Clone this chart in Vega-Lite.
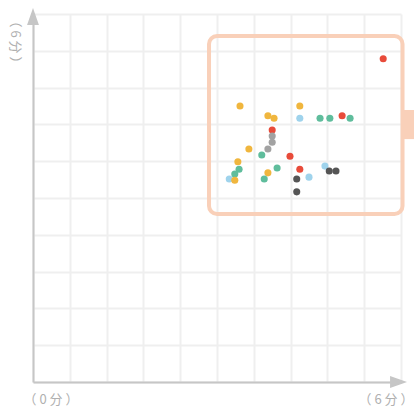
{
  "$schema": "https://vega.github.io/schema/vega-lite/v6.json",
  "width": 368,
  "height": 368,
  "autosize": {"type": "none"},
  "padding": {"left": 33, "top": 14, "right": 13, "bottom": 24},
  "background": "white",
  "config": {
    "view": {"stroke": null},
    "font": "Noto Sans CJK SC",
    "axis": {
      "grid": true,
      "gridColor": "#efefef",
      "gridWidth": 2,
      "ticks": false,
      "tickCount": 11,
      "domainColor": "#c6c6c6",
      "domainWidth": 2,
      "labelColor": "#b0b0b0",
      "labelFontSize": 13,
      "titleColor": "#b0b0b0",
      "titleFontSize": 13,
      "titleFontWeight": "normal"
    }
  },
  "datasets": {
    "points": [
      {"x": 3.375, "y": 4.50, "g": "orange"},
      {"x": 3.83, "y": 4.34, "g": "orange"},
      {"x": 3.93, "y": 4.30, "g": "orange"},
      {"x": 4.35, "y": 4.50, "g": "orange"},
      {"x": 4.35, "y": 4.30, "g": "lightblue"},
      {"x": 4.68, "y": 4.30, "g": "teal"},
      {"x": 4.84, "y": 4.30, "g": "teal"},
      {"x": 5.04, "y": 4.34, "g": "red"},
      {"x": 5.17, "y": 4.30, "g": "teal"},
      {"x": 3.90, "y": 4.11, "g": "red"},
      {"x": 3.90, "y": 4.01, "g": "gray"},
      {"x": 3.90, "y": 3.91, "g": "gray"},
      {"x": 3.83, "y": 3.80, "g": "gray"},
      {"x": 3.52, "y": 3.80, "g": "orange"},
      {"x": 3.73, "y": 3.70, "g": "teal"},
      {"x": 4.19, "y": 3.68, "g": "red"},
      {"x": 3.34, "y": 3.59, "g": "orange"},
      {"x": 3.36, "y": 3.47, "g": "teal"},
      {"x": 3.29, "y": 3.39, "g": "teal"},
      {"x": 3.20, "y": 3.31, "g": "lightblue"},
      {"x": 3.29, "y": 3.29, "g": "orange"},
      {"x": 3.83, "y": 3.41, "g": "orange"},
      {"x": 3.98, "y": 3.49, "g": "teal"},
      {"x": 3.77, "y": 3.31, "g": "teal"},
      {"x": 4.35, "y": 3.47, "g": "red"},
      {"x": 4.30, "y": 3.31, "g": "dark"},
      {"x": 4.30, "y": 3.10, "g": "dark"},
      {"x": 4.50, "y": 3.34, "g": "lightblue"},
      {"x": 4.76, "y": 3.52, "g": "lightblue"},
      {"x": 4.83, "y": 3.44, "g": "dark"},
      {"x": 4.94, "y": 3.44, "g": "dark"},
      {"x": 5.71, "y": 5.27, "g": "red"}
    ],
    "box": [{"x": 2.87, "x2": 6.025, "y": 5.64, "y2": 2.74}],
    "tab": [{"x": 6.0, "x2": 6.5, "y": 4.435, "y2": 3.96}],
    "arrowY": [{"x": 0, "y": 5.96}],
    "arrowX": [{"x": 5.96, "y": 0}]
  },
  "layer": [
    {
      "data": {"name": "box"},
      "mark": {"type": "rect", "fill": null, "stroke": "#f9d0b9", "strokeWidth": 4, "cornerRadius": 8, "clip": false},
      "encoding": {
        "x": {"field": "x", "type": "quantitative", "scale": {"domain": [0, 6]},
          "axis": {"values": [0, 0.6, 1.2, 1.8, 2.4, 3, 3.6, 4.2, 4.8, 5.4, 6], "title": null,
            "labelExpr": "datum.value == 0 ? '（ 0 分 ）' : datum.value == 6 ? '（ 6 分 ）' : ''",
            "labelFlush": true, "labelOverlap": false, "labelBound": false, "labelPadding": 11,
            "labelOffset": {"condition": {"test": "datum.value == 0", "value": -10}, "value": 12}}},
        "x2": {"field": "x2"},
        "y": {"field": "y", "type": "quantitative", "scale": {"domain": [0, 6]},
          "axis": {"values": [0, 0.6, 1.2, 1.8, 2.4, 3, 3.6, 4.2, 4.8, 5.4, 6], "labels": false,
            "title": "（ 6 分 ）", "titleAngle": 90, "titleAnchor": "end", "titleAlign": "left", "titleBaseline": "middle", "titlePadding": 19}},
        "y2": {"field": "y2"}
      }
    },
    {
      "data": {"name": "tab"},
      "mark": {"type": "rect", "fill": "#f9d0b9", "clip": false},
      "encoding": {
        "x": {"field": "x", "type": "quantitative"},
        "x2": {"field": "x2"},
        "y": {"field": "y", "type": "quantitative"},
        "y2": {"field": "y2"}
      }
    },
    {
      "data": {"name": "arrowY"},
      "mark": {"type": "point", "shape": "M0,-1L-0.7,1L0.7,1Z", "size": 289, "filled": true, "fill": "#c6c6c6", "opacity": 1, "clip": false},
      "encoding": {
        "x": {"field": "x", "type": "quantitative"},
        "y": {"field": "y", "type": "quantitative"}
      }
    },
    {
      "data": {"name": "arrowX"},
      "mark": {"type": "point", "shape": "M1,0L-1,-0.7L-1,0.7Z", "size": 289, "filled": true, "fill": "#c6c6c6", "opacity": 1, "clip": false},
      "encoding": {
        "x": {"field": "x", "type": "quantitative"},
        "y": {"field": "y", "type": "quantitative"}
      }
    },
    {
      "data": {"name": "points"},
      "mark": {"type": "circle", "size": 50, "opacity": 1},
      "encoding": {
        "x": {"field": "x", "type": "quantitative"},
        "y": {"field": "y", "type": "quantitative"},
        "color": {"field": "g", "type": "nominal", "legend": null,
          "scale": {"domain": ["red", "orange", "teal", "lightblue", "gray", "dark"],
            "range": ["#e84b3a", "#f0b63e", "#5fbd9c", "#9fd3ec", "#a2a2a2", "#555555"]}}
      }
    }
  ]
}
